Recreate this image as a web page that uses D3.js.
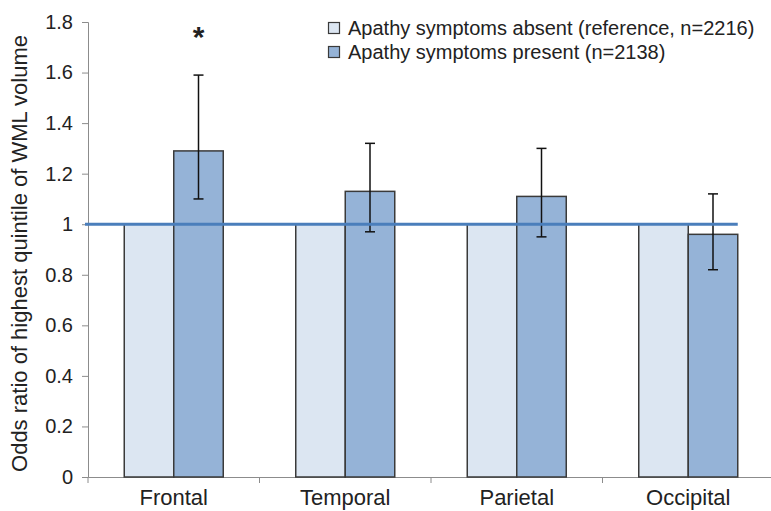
<!DOCTYPE html>
<html>
<head>
<meta charset="utf-8">
<script src="https://cdn.jsdelivr.net/npm/d3@7"></script>
<style>
  body { margin: 0; background: #fff; }
  text { font-family: "Liberation Sans", Arial, sans-serif; fill: #222; }
</style>
</head>
<body>
<svg id="chart" width="771" height="511"></svg>
<script>
const regions = ['Frontal', 'Temporal', 'Parietal', 'Occipital'];
const series = ['Apathy symptoms absent (reference, n=2216)', 'Apathy symptoms present (n=2138)'];
const absent = [1, 1, 1, 1];
const present = [1.29, 1.13, 1.11, 0.96];
const ciLow = [1.10, 0.97, 0.95, 0.82];
const ciHigh = [1.59, 1.32, 1.30, 1.12];
const significant = [true, false, false, false];
const yTicks = [0, 0.2, 0.4, 0.6, 0.8, 1, 1.2, 1.4, 1.6, 1.8];

const colors = ['#dce6f2', '#95b3d7'];

const svg = d3.select('#chart');
const margin = { left: 88, top: 22, bottom: 477 };

const x = d3.scaleBand()
  .domain(regions)
  .range([margin.left, margin.left + 171.5 * 4]);

const inner = d3.scaleBand()
  .domain([0, 1])
  .range([x.bandwidth() / 2 - 49.5, x.bandwidth() / 2 + 49.5]);

const y = d3.scaleLinear()
  .domain([0, 1.8])
  .range([margin.bottom, margin.top]);

// y axis
const yAxis = svg.append('g')
  .attr('transform', `translate(${margin.left},0)`)
  .call(d3.axisLeft(y).tickValues(yTicks).tickSize(6).tickPadding(9)
    .tickFormat(d => d3.format('')(+d.toFixed(1))));
yAxis.attr('font-size', null).attr('font-family', null);
yAxis.select('.domain').attr('stroke', '#8c8c8c');
yAxis.selectAll('.tick line').attr('stroke', '#8c8c8c');
yAxis.selectAll('.tick text')
  .style('font-size', '20px')
  .attr('fill', '#222');

// x axis
const xAxis = svg.append('g')
  .attr('transform', `translate(0,${margin.bottom})`)
  .call(d3.axisBottom(x).tickSize(0).tickPadding(12));
xAxis.attr('font-size', null).attr('font-family', null);
xAxis.select('.domain').attr('stroke', '#8c8c8c');
xAxis.selectAll('.tick text')
  .style('font-size', '22px')
  .attr('fill', '#222');
// category separator ticks
svg.append('g')
  .selectAll('line')
  .data(regions.map(r => x(r)).concat([x.range()[1]]))
  .join('line')
    .attr('x1', d => d)
    .attr('x2', d => d)
    .attr('y1', margin.bottom)
    .attr('y2', margin.bottom + 6)
    .attr('stroke', '#8c8c8c');

// bars
const groups = svg.append('g')
  .selectAll('g')
  .data(regions)
  .join('g')
    .attr('transform', d => `translate(${x(d)},0)`);

groups.append('rect')
  .attr('x', inner(0))
  .attr('width', inner.bandwidth())
  .attr('y', (d, i) => y(absent[i]))
  .attr('height', (d, i) => y(0) - y(absent[i]))
  .attr('fill', colors[0])
  .attr('stroke', '#3a3a3a')
  .attr('stroke-width', 1.5);

groups.append('rect')
  .attr('x', inner(1))
  .attr('width', inner.bandwidth())
  .attr('y', (d, i) => y(present[i]))
  .attr('height', (d, i) => y(0) - y(present[i]))
  .attr('fill', colors[1])
  .attr('stroke', '#3a3a3a')
  .attr('stroke-width', 1.5);

// reference line at OR = 1
svg.append('line')
  .attr('x1', margin.left - 3)
  .attr('x2', x(regions[3]) + inner(1) + inner.bandwidth())
  .attr('y1', y(1))
  .attr('y2', y(1))
  .attr('stroke', '#4a7ebb')
  .attr('stroke-width', 3);

// error bars
const errX = inner(1) + inner.bandwidth() / 2;
groups.append('line')
  .attr('x1', errX).attr('x2', errX)
  .attr('y1', (d, i) => y(ciLow[i]))
  .attr('y2', (d, i) => y(ciHigh[i]))
  .attr('stroke', '#111').attr('stroke-width', 1.5);
groups.append('line')
  .attr('x1', errX - 5).attr('x2', errX + 5)
  .attr('y1', (d, i) => y(ciHigh[i]))
  .attr('y2', (d, i) => y(ciHigh[i]))
  .attr('stroke', '#111').attr('stroke-width', 1.5);
groups.append('line')
  .attr('x1', errX - 5).attr('x2', errX + 5)
  .attr('y1', (d, i) => y(ciLow[i]))
  .attr('y2', (d, i) => y(ciLow[i]))
  .attr('stroke', '#111').attr('stroke-width', 1.5);

// significance marker
groups.filter((d, i) => significant[i])
  .append('text')
    .attr('x', errX)
    .attr('y', 47)
    .attr('text-anchor', 'middle')
    .style('font-size', '30px')
    .style('font-weight', 'bold')
    .text('*');

// y label
svg.append('text')
  .attr('transform', `translate(27,${(margin.top + margin.bottom) / 2 + 4}) rotate(-90)`)
  .attr('text-anchor', 'middle')
  .style('font-size', '22px')
  .text('Odds ratio of highest quintile of WML volume');

// legend
const legend = svg.append('g')
  .attr('transform', 'translate(328,17)');
const item = legend.selectAll('g')
  .data(series)
  .join('g')
    .attr('transform', (d, i) => `translate(0,${i * 24})`);
item.append('rect')
  .attr('x', 0.5).attr('y', 5.5)
  .attr('width', 11).attr('height', 11)
  .attr('fill', (d, i) => colors[i])
  .attr('stroke', '#3a3a3a')
  .attr('stroke-width', 1.2);
item.append('text')
  .attr('x', 20)
  .attr('y', 18)
  .style('font-size', '20px')
  .text(d => d);
</script>
</body>
</html>
